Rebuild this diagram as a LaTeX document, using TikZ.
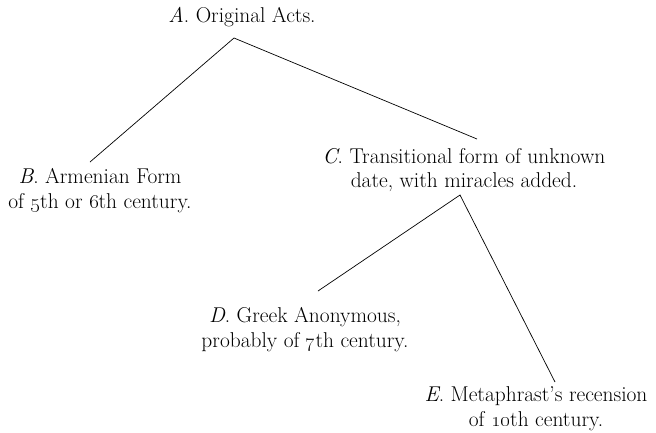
\documentclass[tikz,border=0pt]{standalone}
\begin{document}
\begin{tikzpicture}[x=1bp,y=-1bp,
  lbl/.style={inner sep=0pt,align=center,font=\fontsize{21.5}{25}\selectfont},
  edge/.style={line width=0.7bp,black}]
\useasboundingbox (0,0) rectangle (656,432);
\node[lbl] (A) at (242,17) {\textit{A}.\ Original Acts.};
\node[lbl] (B) at (100,191) {\textit{B}.\ Armenian Form\\of \oldstylenums{5}th or \oldstylenums{6}th century.};
\node[lbl] (C) at (464,170) {\textit{C}.\ Transitional form of unknown\\date, with miracles added.};
\node[lbl] (D) at (305,330) {\textit{D}.\ Greek Anonymous,\\probably of \oldstylenums{7}th century.};
\node[lbl] (E) at (536,409) {\textit{E}.\ Metaphrast's recension\\of \oldstylenums{10}th century.};
\coordinate (Aj) at (234,38);
\coordinate (Bj) at (90,162);
\coordinate (Cin) at (477,139);
\coordinate (Cj) at (460,195);
\coordinate (Dj) at (318,291);
\coordinate (Ej) at (555,382);
\draw[edge] (Bj) -- (Aj) -- (Cin);
\draw[edge] (Dj) -- (Cj) -- (Ej);
\end{tikzpicture}
\end{document}
